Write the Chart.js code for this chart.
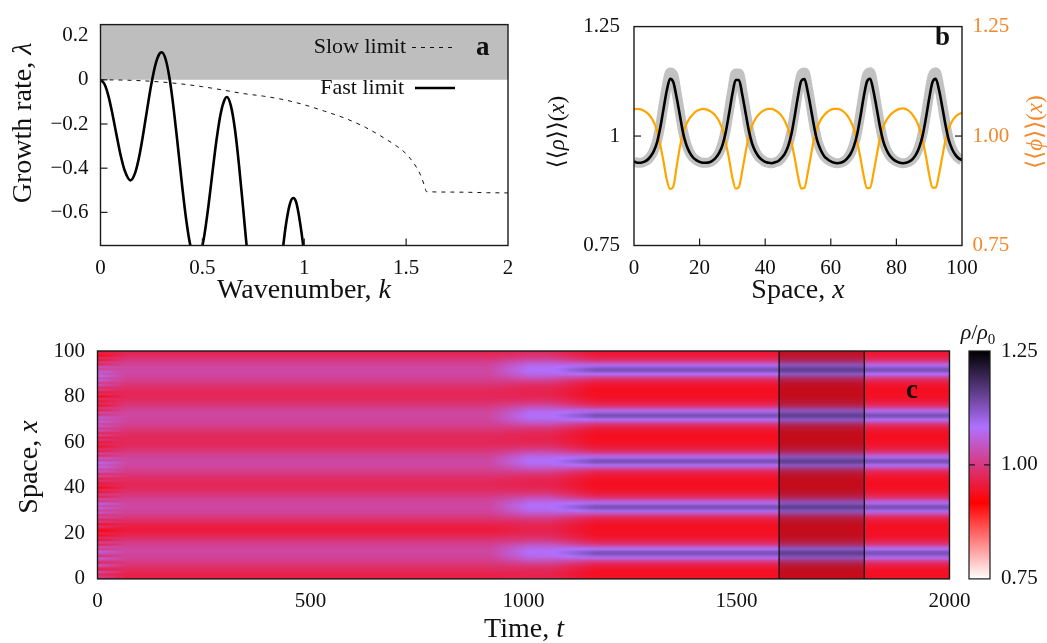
<!DOCTYPE html>
<html lang="en">
<head>
<meta charset="UTF-8">
<title>Growth rate, mean profiles and kymograph</title>
<script src="https://cdn.jsdelivr.net/npm/chart.js"></script>
<style>
  body { margin: 0; background: #fff; }
  #fig { position: relative; width: 1047px; height: 643px; }
  #fig canvas { position: absolute; left: 0; top: 0; }
</style>
</head>
<body>
<div id="fig">
  <canvas id="panelA" width="1047" height="643"></canvas>
  <canvas id="panelB" width="1047" height="643"></canvas>
  <canvas id="panelC" width="1047" height="643"></canvas>
</div>

<script>
// ---- panel a : dispersion relation ----
const fastK = [0, 0.02, 0.04, 0.06, 0.08, 0.10, 0.12, 0.147, 0.17, 0.19, 0.21, 0.23, 0.25, 0.27, 0.29, 0.30,
  0.32, 0.34, 0.36, 0.38, 0.40, 0.42, 0.44, 0.46, 0.471, 0.49, 0.51, 0.53, 0.55, 0.57, 0.59, 0.61, 0.62,
  0.64, 0.66, 0.68, 0.70, 0.72, 0.74, 0.76, 0.80, 0.84, 0.87, 0.89, 0.91, 0.93, 0.946, 0.96, 0.98, 1.00, 1.02, 1.05];
const fastLambda = [0, -0.020, -0.077, -0.161, -0.256, -0.346, -0.414, -0.455, -0.421, -0.347, -0.243, -0.127, -0.017, 0.070, 0.119, 0.125,
  0.092, 0.0, -0.138, -0.303, -0.474, -0.629, -0.746, -0.811, -0.82, -0.791, -0.702, -0.569, -0.415, -0.268, -0.152, -0.088, -0.078,
  -0.118, -0.225, -0.388, -0.581, -0.779, -0.951, -1.07, -1.2, -1.15, -0.987, -0.807, -0.656, -0.56, -0.535, -0.553, -0.65, -0.79, -0.97, -1.3];
const slowK = [0, 0.1, 0.2, 0.3, 0.4, 0.5, 0.6, 0.7, 0.8, 0.9, 1.0, 1.1, 1.2, 1.3, 1.4, 1.45, 1.5, 1.55, 1.575, 1.59, 1.6, 1.7, 1.8, 1.9, 2.0];
const slowLambda = [0, -0.001, -0.004, -0.010, -0.019, -0.031, -0.046, -0.062, -0.074, -0.09, -0.113, -0.142, -0.174, -0.215, -0.268, -0.298,
  -0.335, -0.395, -0.44, -0.48, -0.506, -0.508, -0.509, -0.511, -0.512];
const unstableK = [0, 2];
const unstableTop = [0.25, 0.25];
const kTicks = [0, 0.5, 1, 1.5, 2];
const lambdaTicks = [0.2, 0, -0.2, -0.4, -0.6];

// ---- panel b : time-averaged profiles (t = 1600..1800) ----
const spaceX = Array.from({ length: 101 }, (_, i) => i);
const rhoMean = [
  0.942, 0.939, 0.939, 0.941, 0.945, 0.953, 0.965, 0.985, 1.019, 1.062, 1.104, 1.131, 1.123, 1.088, 1.047, 1.006, 0.979, 0.962, 0.951, 0.945,
  0.941, 0.939, 0.939, 0.940, 0.944, 0.951, 0.962, 0.980, 1.010, 1.052, 1.096, 1.128, 1.128, 1.095, 1.054, 1.013, 0.983, 0.965, 0.953, 0.946,
  0.941, 0.939, 0.938, 0.940, 0.943, 0.950, 0.960, 0.977, 1.005, 1.046, 1.091, 1.126, 1.130, 1.100, 1.060, 1.018, 0.986, 0.967, 0.954, 0.947,
  0.942, 0.939, 0.938, 0.939, 0.942, 0.949, 0.959, 0.976, 1.003, 1.043, 1.088, 1.124, 1.131, 1.103, 1.063, 1.021, 0.988, 0.968, 0.955, 0.947,
  0.942, 0.939, 0.938, 0.939, 0.942, 0.948, 0.958, 0.975, 1.001, 1.041, 1.086, 1.123, 1.131, 1.105, 1.066, 1.024, 0.990, 0.970, 0.957, 0.949, 0.945];
const rhoSpread = [
  0.942, 0.939, 0.939, 0.941, 0.945, 0.953, 0.966, 0.988, 1.024, 1.070, 1.114, 1.145, 1.139, 1.098, 1.053, 1.009, 0.980, 0.962, 0.951, 0.945,
  0.941, 0.939, 0.939, 0.940, 0.944, 0.951, 0.963, 0.983, 1.015, 1.060, 1.106, 1.143, 1.143, 1.105, 1.060, 1.016, 0.984, 0.965, 0.953, 0.946,
  0.941, 0.939, 0.938, 0.940, 0.943, 0.950, 0.961, 0.980, 1.010, 1.054, 1.101, 1.140, 1.145, 1.110, 1.066, 1.021, 0.987, 0.967, 0.954, 0.947,
  0.942, 0.939, 0.938, 0.939, 0.942, 0.949, 0.960, 0.979, 1.008, 1.051, 1.098, 1.138, 1.146, 1.113, 1.069, 1.024, 0.989, 0.968, 0.955, 0.947,
  0.942, 0.939, 0.938, 0.939, 0.942, 0.948, 0.959, 0.978, 1.006, 1.049, 1.096, 1.137, 1.146, 1.115, 1.072, 1.027, 0.991, 0.970, 0.957, 0.949, 0.945];
const phiMean = [
  1.061, 1.062, 1.061, 1.058, 1.053, 1.045, 1.032, 1.013, 0.980, 0.942, 0.900, 0.879, 0.885, 0.930, 0.975, 1.008, 1.028, 1.041, 1.050, 1.057,
  1.060, 1.062, 1.061, 1.058, 1.053, 1.045, 1.033, 1.015, 0.984, 0.947, 0.905, 0.880, 0.884, 0.920, 0.962, 1.000, 1.024, 1.039, 1.049, 1.056,
  1.060, 1.062, 1.062, 1.059, 1.054, 1.046, 1.034, 1.016, 0.986, 0.950, 0.908, 0.880, 0.882, 0.917, 0.958, 0.997, 1.022, 1.038, 1.048, 1.055,
  1.060, 1.062, 1.062, 1.060, 1.055, 1.047, 1.035, 1.017, 0.988, 0.952, 0.910, 0.881, 0.882, 0.915, 0.956, 0.995, 1.021, 1.037, 1.047, 1.054,
  1.059, 1.062, 1.063, 1.061, 1.056, 1.048, 1.036, 1.018, 0.990, 0.954, 0.912, 0.882, 0.882, 0.913, 0.953, 0.992, 1.018, 1.034, 1.044, 1.050, 1.053];
const spaceTicks = [0, 20, 40, 60, 80, 100];
const densTicks = [0.75, 1, 1.25];

// ---- panel c : kymograph rho(x, t)/rho0 ----
const initialRho = [
  0.955, 1.015, 0.970, 1.040, 0.960, 0.990, 1.050, 0.975, 1.010, 1.060, 0.985, 1.030, 1.065, 1.000, 1.040, 0.960, 1.020, 0.945, 0.990, 0.935,
  0.970, 0.925, 0.950, 0.995, 0.940, 1.010, 0.970, 1.030, 0.990, 1.050, 1.010, 1.060, 1.020, 1.070, 0.990, 1.030, 0.960, 1.010, 0.950, 0.980,
  0.930, 0.970, 0.950, 1.000, 0.960, 1.030, 0.980, 1.050, 1.020, 1.070, 1.040, 1.080, 1.010, 1.050, 0.980, 1.020, 0.960, 0.990, 0.940, 0.980,
  0.950, 1.000, 0.960, 1.020, 0.970, 1.040, 1.000, 1.050, 1.020, 1.060, 1.030, 1.050, 0.990, 1.030, 0.960, 1.000, 0.940, 0.980, 0.950, 0.990,
  0.930, 0.980, 0.960, 1.010, 0.980, 1.040, 1.000, 1.060, 1.030, 1.070, 1.040, 1.060, 1.010, 1.040, 0.970, 1.000, 0.950, 0.980, 0.930, 0.960, 0.940];
const earlyRho = [
  0.965, 0.963, 0.966, 0.972, 0.978, 0.985, 0.992, 0.999, 1.006, 1.012, 1.017, 1.020, 1.021, 1.020, 1.016, 1.010, 1.003, 0.994, 0.984, 0.973,
  0.963, 0.957, 0.956, 0.960, 0.968, 0.978, 0.988, 0.998, 1.006, 1.013, 1.018, 1.021, 1.022, 1.021, 1.018, 1.012, 1.005, 0.997, 0.989, 0.982,
  0.977, 0.975, 0.975, 0.978, 0.983, 0.990, 0.998, 1.005, 1.012, 1.017, 1.021, 1.023, 1.022, 1.019, 1.013, 1.006, 0.998, 0.990, 0.983, 0.978,
  0.976, 0.975, 0.976, 0.979, 0.985, 0.992, 0.999, 1.006, 1.012, 1.017, 1.020, 1.022, 1.022, 1.019, 1.014, 1.007, 0.999, 0.991, 0.984, 0.978,
  0.975, 0.974, 0.975, 0.979, 0.985, 0.992, 1.000, 1.007, 1.013, 1.018, 1.021, 1.023, 1.023, 1.021, 1.016, 1.009, 1.000, 0.990, 0.980, 0.972, 0.966];
const transRho = [
  0.972, 0.969, 0.969, 0.972, 0.977, 0.987, 1.000, 1.018, 1.038, 1.056, 1.070, 1.078, 1.079, 1.072, 1.060, 1.042, 1.022, 1.003, 0.990, 0.979,
  0.972, 0.969, 0.968, 0.970, 0.975, 0.984, 0.997, 1.014, 1.034, 1.053, 1.068, 1.077, 1.080, 1.074, 1.062, 1.045, 1.025, 1.006, 0.992, 0.980,
  0.973, 0.969, 0.968, 0.970, 0.975, 0.984, 0.996, 1.013, 1.033, 1.052, 1.068, 1.078, 1.080, 1.074, 1.061, 1.043, 1.023, 1.004, 0.990, 0.979,
  0.972, 0.969, 0.968, 0.970, 0.975, 0.985, 0.998, 1.015, 1.035, 1.054, 1.069, 1.078, 1.080, 1.074, 1.062, 1.045, 1.025, 1.006, 0.992, 0.980,
  0.973, 0.969, 0.968, 0.970, 0.975, 0.984, 0.997, 1.014, 1.034, 1.053, 1.069, 1.078, 1.080, 1.075, 1.063, 1.046, 1.026, 1.007, 0.993, 0.982, 0.975];
const kymoKeyTimes = [0, 70, 920, 1015, 1060, 1170, 2000];
const kymoKeyProfiles = [initialRho, earlyRho, earlyRho, transRho, transRho, rhoMean, rhoMean];
const avgWindow = [1600, 1800];
const timeTicks = [0, 500, 1000, 1500, 2000];
const kymoSpaceTicks = [0, 20, 40, 60, 80, 100];
const cbarTicks = [0.75, 1.00, 1.25];

// colour map of the density (white - red - violet - black)
const cmapStops = [0.75, 0.917, 1.083, 1.25];
const cmapColors = [[255, 255, 255], [255, 0, 0], [176, 112, 255], [0, 0, 0]];

const FONT = "'Liberation Serif', 'DejaVu Serif', serif";
const INK = '#111';
const ORANGE_TXT = '#f5882a';
const TICK_SIZE = 21;
const TITLE_SIZE = 28;
Chart.defaults.font.family = FONT;
Chart.defaults.color = INK;

function cmap(v) {
  if (v <= cmapStops[0]) return cmapColors[0];
  for (let i = 1; i < cmapStops.length; i++) {
    if (v <= cmapStops[i]) {
      const f = (v - cmapStops[i - 1]) / (cmapStops[i] - cmapStops[i - 1]);
      return cmapColors[i - 1].map((c, k) => c + (cmapColors[i][k] - c) * f);
    }
  }
  return cmapColors[cmapColors.length - 1];
}

function pts(xs, ys) { return xs.map((x, i) => ({ x, y: ys[i] })); }

function minus(v) { return v < 0 ? '\u2212' + String(Math.abs(v)) : String(v); }

// fixed axis sizes so the plot areas land where the figure has them
function fixW(w) { return s => { s.width = w; }; }
function fixH(h) { return s => { s.height = h; }; }
function setTicks(vals) { return s => { s.ticks = vals.map(v => ({ value: v })); }; }

function tickFont() { return { family: FONT, size: TICK_SIZE }; }

function runFont(style, size) {
  if (style === 'i') return 'italic ' + size + 'px ' + FONT;
  if (style === 'b') return 'bold ' + size + 'px ' + FONT;
  if (style === 'sub') return Math.round(size * 0.68) + 'px ' + FONT;
  return size + 'px ' + FONT;
}

// text with mixed upright / italic runs, optionally rotated
function drawRuns(ctx, it) {
  const size = it.size;
  ctx.save();
  ctx.translate(it.x, it.y);
  if (it.rot) ctx.rotate(it.rot * Math.PI / 180);
  ctx.fillStyle = it.color || INK;
  ctx.textBaseline = it.baseline || 'alphabetic';
  ctx.textAlign = 'left';
  let total = 0;
  const widths = it.runs.map(([t, s]) => {
    ctx.font = runFont(s, size);
    const w = ctx.measureText(t).width;
    total += w;
    return w;
  });
  let x0 = it.align === 'center' ? -total / 2 : it.align === 'right' ? -total : 0;
  it.runs.forEach(([t, s], i) => {
    ctx.font = runFont(s, size);
    ctx.fillText(t, x0, s === 'sub' ? size * 0.22 : 0);
    x0 += widths[i];
  });
  ctx.restore();
}

const textPlugin = {
  id: 'texts',
  afterDraw(chart, args, opts) {
    const ctx = chart.ctx;
    (opts.samples || []).forEach(sm => {
      const ds = chart.data.datasets[sm.dataset];
      ctx.save();
      ctx.strokeStyle = ds.borderColor;
      ctx.lineWidth = ds.borderWidth;
      ctx.setLineDash(ds.borderDash || []);
      ctx.beginPath();
      ctx.moveTo(sm.x1, sm.y);
      ctx.lineTo(sm.x2, sm.y);
      ctx.stroke();
      ctx.restore();
    });
    (opts.items || []).forEach(it => drawRuns(ctx, it));
  }
};

const framePlugin = {
  id: 'frame',
  afterDatasetsDraw(chart, args, opts) {
    const { ctx, chartArea: a } = chart;
    const len = opts.len || 7;
    ctx.save();
    ctx.strokeStyle = '#1a1a1a';
    ctx.lineWidth = 1.2;
    (opts.marks || []).forEach(m => {
      const s = chart.scales[m.axis];
      m.values.forEach(v => {
        const p = s.getPixelForValue(v);
        ctx.beginPath();
        if (m.side === 'bottom') { ctx.moveTo(p, a.bottom); ctx.lineTo(p, a.bottom - len); }
        if (m.side === 'left') { ctx.moveTo(a.left, p); ctx.lineTo(a.left + len, p); }
        if (m.side === 'right') { ctx.moveTo(a.right, p); ctx.lineTo(a.right - len, p); }
        ctx.stroke();
      });
    });
    ctx.lineWidth = 1.4;
    ctx.strokeRect(a.left, a.top, a.width, a.height);
    ctx.restore();
  }
};

// kymograph image, built from the key profiles and scaled onto the axes
function buildKymo() {
  const cols = 400, rows = spaceX.length;
  const tMax = kymoKeyTimes[kymoKeyTimes.length - 1];
  const off = document.createElement('canvas');
  off.width = cols; off.height = rows;
  const g = off.getContext('2d');
  const img = g.createImageData(cols, rows);
  for (let j = 0; j < cols; j++) {
    const t = (j + 0.5) * tMax / cols;
    let k = 0;
    while (k < kymoKeyTimes.length - 2 && t > kymoKeyTimes[k + 1]) k++;
    const w = Math.min(1, Math.max(0, (t - kymoKeyTimes[k]) / (kymoKeyTimes[k + 1] - kymoKeyTimes[k])));
    const p0 = kymoKeyProfiles[k], p1 = kymoKeyProfiles[k + 1];
    for (let i = 0; i < rows; i++) {
      const xi = rows - 1 - i;
      const c = cmap(p0[xi] * (1 - w) + p1[xi] * w);
      const o = (i * cols + j) * 4;
      img.data[o] = c[0]; img.data[o + 1] = c[1]; img.data[o + 2] = c[2]; img.data[o + 3] = 255;
    }
  }
  g.putImageData(img, 0, 0);
  return off;
}

const kymoPlugin = {
  id: 'kymo',
  beforeDatasetsDraw(chart) {
    const { ctx, chartArea: a, scales } = chart;
    const xs = scales.x, ys = scales.y;
    if (!chart.$kymo) chart.$kymo = buildKymo();
    const tMax = kymoKeyTimes[kymoKeyTimes.length - 1];
    const x0 = xs.getPixelForValue(0), x1 = xs.getPixelForValue(tMax);
    const y0 = ys.getPixelForValue(spaceX[spaceX.length - 1] + 0.5), y1 = ys.getPixelForValue(-0.5);
    ctx.save();
    ctx.beginPath();
    ctx.rect(a.left, a.top, a.width, a.height);
    ctx.clip();
    ctx.imageSmoothingEnabled = true;
    ctx.imageSmoothingQuality = 'high';
    ctx.drawImage(chart.$kymo, x0, y0, x1 - x0, y1 - y0);
    // averaging window
    const w0 = xs.getPixelForValue(avgWindow[0]), w1 = xs.getPixelForValue(avgWindow[1]);
    ctx.fillStyle = 'rgba(0,0,0,0.2)';
    ctx.fillRect(w0, a.top, w1 - w0, a.height);
    ctx.strokeStyle = '#111';
    ctx.lineWidth = 1.3;
    [w0, w1].forEach(p => { ctx.beginPath(); ctx.moveTo(p, a.top); ctx.lineTo(p, a.bottom); ctx.stroke(); });
    ctx.restore();
  },
  afterDraw(chart) {
    const { ctx, scales } = chart;
    const cb = scales.cb;
    const left = cb.left + 19.5, right = cb.left + 40.5;
    const yTop = cb.getPixelForValue(cmapStops[cmapStops.length - 1]);
    const yBot = cb.getPixelForValue(cmapStops[0]);
    const grad = ctx.createLinearGradient(0, yBot, 0, yTop);
    cmapStops.forEach((s, i) => {
      const c = cmapColors[i];
      grad.addColorStop((s - cmapStops[0]) / (cmapStops[cmapStops.length - 1] - cmapStops[0]), 'rgb(' + c.join(',') + ')');
    });
    ctx.save();
    ctx.fillStyle = grad;
    ctx.fillRect(left, yTop, right - left, yBot - yTop);
    ctx.strokeStyle = '#1a1a1a';
    ctx.lineWidth = 1.2;
    ctx.strokeRect(left, yTop, right - left, yBot - yTop);
    const ym = cb.getPixelForValue(1.0);
    ctx.beginPath();
    ctx.moveTo(left, ym); ctx.lineTo(left + 6, ym);
    ctx.moveTo(right, ym); ctx.lineTo(right - 6, ym);
    ctx.stroke();
    ctx.restore();
  }
};

const noAxisDeco = { grid: { display: false, drawTicks: false }, border: { display: false } };

// ---------------- panel a ----------------
new Chart(document.getElementById('panelA'), {
  type: 'line',
  data: {
    datasets: [
      { label: 'Fast limit', data: pts(fastK, fastLambda), borderColor: '#000', borderWidth: 2.6,
        pointRadius: 0, cubicInterpolationMode: 'monotone', clip: 0, fill: false },
      { label: 'Slow limit', data: pts(slowK, slowLambda), borderColor: '#111', borderWidth: 1,
        borderDash: [4, 5], pointRadius: 0, cubicInterpolationMode: 'monotone', clip: 0, fill: false },
      { label: 'unstable', data: pts(unstableK, unstableTop), borderWidth: 0, borderColor: 'rgba(0,0,0,0)',
        backgroundColor: '#bebebe', pointRadius: 0, fill: { value: 0 }, clip: 0 }
    ]
  },
  options: {
    responsive: false, animation: false, devicePixelRatio: 1, events: [],
    layout: { padding: { left: 0, top: 14.5, right: 1047 - 508, bottom: 0 } },
    plugins: {
      legend: { display: false }, tooltip: { enabled: false },
      frame: { marks: [{ axis: 'x', side: 'bottom', values: [0.5, 1, 1.5] },
                       { axis: 'y', side: 'left', values: [0, -0.2, -0.4, -0.6] }] },
      texts: {
        samples: [{ dataset: 1, x1: 412, x2: 455, y: 47.5 }, { dataset: 0, x1: 415, x2: 455, y: 88 }],
        items: [
          { x: 31, y: 123, rot: -90, align: 'center', size: TITLE_SIZE, runs: [['Growth rate, ', ''], ['\u03bb', 'i']] },
          { x: 304, y: 298, align: 'center', size: TITLE_SIZE, runs: [['Wavenumber, ', ''], ['k', 'i']] },
          { x: 406, y: 53, align: 'right', size: 22, runs: [['Slow limit', '']] },
          { x: 404, y: 94, align: 'right', size: 22, runs: [['Fast limit', '']] },
          { x: 476, y: 55, align: 'left', size: 27, runs: [['a', 'b']] }
        ]
      }
    },
    scales: {
      x: { type: 'linear', min: 0, max: 2, ...noAxisDeco, afterFit: fixH(643 - 245.5), afterBuildTicks: setTicks(kTicks),
           ticks: { font: tickFont(), padding: 10, maxRotation: 0, autoSkip: false, callback: v => String(v) } },
      y: { type: 'linear', min: -0.75, max: 0.25, ...noAxisDeco, afterFit: fixW(100.5), afterBuildTicks: setTicks(lambdaTicks),
           ticks: { font: tickFont(), padding: 12, callback: v => minus(v) } }
    }
  },
  plugins: [framePlugin, textPlugin]
});

// ---------------- panel b ----------------
new Chart(document.getElementById('panelB'), {
  type: 'line',
  data: {
    datasets: [
      { label: '<<rho>>', data: pts(spaceX, rhoMean), borderColor: '#000', borderWidth: 2.6, pointRadius: 0,
        cubicInterpolationMode: 'monotone', yAxisID: 'y', fill: false },
      { label: '<<phi>>', data: pts(spaceX, phiMean), borderColor: '#ffa500', borderWidth: 2.2, pointRadius: 0,
        cubicInterpolationMode: 'monotone', yAxisID: 'y2', fill: false },
      { label: 'spread', data: pts(spaceX, rhoSpread), borderColor: '#c2c2c2', borderWidth: 10, pointRadius: 0,
        cubicInterpolationMode: 'monotone', borderJoinStyle: 'round', yAxisID: 'y', fill: false }
    ]
  },
  options: {
    responsive: false, animation: false, devicePixelRatio: 1, events: [],
    layout: { padding: { left: 0, top: 14.5, right: 0, bottom: 0 } },
    plugins: {
      legend: { display: false }, tooltip: { enabled: false },
      frame: { marks: [{ axis: 'x', side: 'bottom', values: [20, 40, 60, 80] },
                       { axis: 'y', side: 'left', values: [1] },
                       { axis: 'y2', side: 'right', values: [1] }] },
      texts: {
        items: [
          { x: 798, y: 298, align: 'center', size: TITLE_SIZE, runs: [['Space, ', ''], ['x', 'i']] },
          { x: 558, y: 132, rot: -90, align: 'center', baseline: 'middle', size: 23,
            runs: [['\u27e8\u27e8', ''], ['\u03c1', 'i'], ['\u27e9\u27e9(', ''], ['x', 'i'], [')', '']] },
          { x: 1036, y: 132, rot: -90, align: 'center', baseline: 'middle', size: 23, color: ORANGE_TXT,
            runs: [['\u27e8\u27e8', ''], ['\u03d5', 'i'], ['\u27e9\u27e9(', ''], ['x', 'i'], [')', '']] },
          { x: 935, y: 45, align: 'left', size: 27, runs: [['b', 'b']] }
        ]
      }
    },
    scales: {
      x: { type: 'linear', min: 0, max: 100, ...noAxisDeco, afterFit: fixH(643 - 245.5), afterBuildTicks: setTicks(spaceTicks),
           ticks: { font: tickFont(), padding: 10, maxRotation: 0, autoSkip: false, callback: v => String(v) } },
      y: { type: 'linear', position: 'left', min: 0.75, max: 1.25, ...noAxisDeco, afterFit: fixW(634), afterBuildTicks: setTicks(densTicks),
           ticks: { font: tickFont(), padding: 14, callback: v => String(v) } },
      y2: { type: 'linear', position: 'right', min: 0.75, max: 1.25, ...noAxisDeco, afterFit: fixW(1047 - 962), afterBuildTicks: setTicks(densTicks),
            ticks: { font: tickFont(), padding: 10.5, color: ORANGE_TXT, callback: v => v.toFixed(2) } }
    }
  },
  plugins: [framePlugin, textPlugin]
});

// ---------------- panel c ----------------
new Chart(document.getElementById('panelC'), {
  type: 'scatter',
  data: { datasets: [] },
  options: {
    responsive: false, animation: false, devicePixelRatio: 1, events: [],
    layout: { padding: { left: 0, top: 351, right: 0, bottom: 0 } },
    plugins: {
      legend: { display: false }, tooltip: { enabled: false },
      frame: { marks: [] },
      texts: {
        items: [
          { x: 37, y: 467, rot: -90, align: 'center', size: TITLE_SIZE, runs: [['Space, ', ''], ['x', 'i']] },
          { x: 524, y: 637, align: 'center', size: TITLE_SIZE, runs: [['Time, ', ''], ['t', 'i']] },
          { x: 906, y: 398, align: 'left', size: 27, runs: [['c', 'b']] },
          { x: 978, y: 339, align: 'center', size: 22, runs: [['\u03c1', 'i'], ['/', ''], ['\u03c1', 'i'], ['0', 'sub']] }
        ]
      }
    },
    scales: {
      x: { type: 'linear', min: 0, max: 2000, ...noAxisDeco, afterFit: fixH(643 - 582.5), afterBuildTicks: setTicks(timeTicks),
           ticks: { font: tickFont(), padding: 10, maxRotation: 0, autoSkip: false, callback: v => String(v) } },
      y: { type: 'linear', position: 'left', min: 0, max: 100, ...noAxisDeco, afterFit: fixW(97.5), afterBuildTicks: setTicks(kymoSpaceTicks),
           ticks: { font: tickFont(), padding: 12.5, callback: v => String(v) } },
      cb: { type: 'linear', position: 'right', min: 0.75, max: 1.25, ...noAxisDeco, afterFit: fixW(1047 - 949.5), afterBuildTicks: setTicks(cbarTicks),
            ticks: { font: tickFont(), padding: 51.5, callback: v => v.toFixed(2) } }
    }
  },
  plugins: [kymoPlugin, framePlugin, textPlugin]
});
</script>
</body>
</html>
